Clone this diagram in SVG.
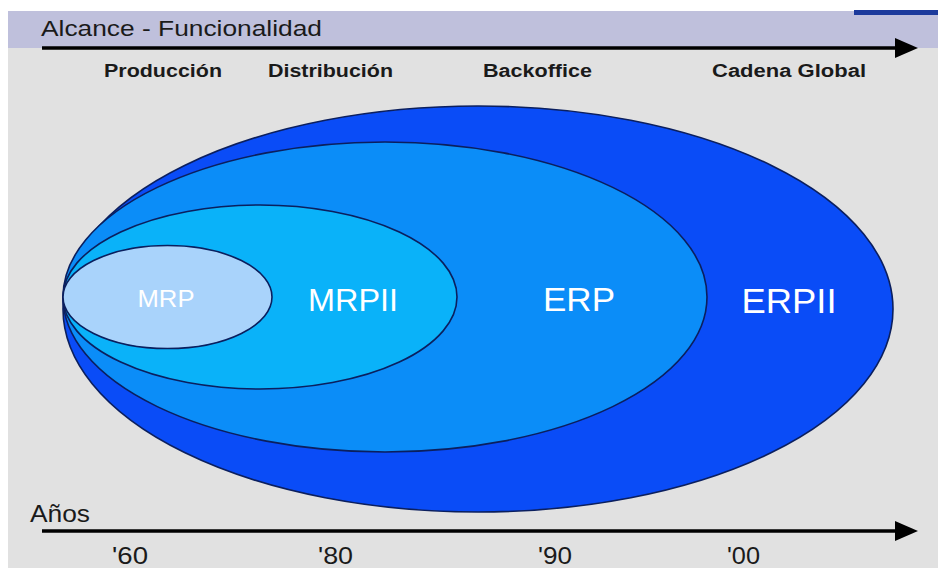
<svg xmlns="http://www.w3.org/2000/svg" width="938" height="568" viewBox="0 0 938 568">
<style>
.ell{stroke:#0b1f5e;stroke-width:1.6}
.lbl{font-family:"Liberation Sans",Arial,sans-serif;fill:#ffffff;text-anchor:middle}
.axis{font-family:"Liberation Sans",Arial,sans-serif;fill:#1a1a1a}
.cat{font-family:"Liberation Sans",Arial,sans-serif;font-weight:bold;fill:#1a1a1a;font-size:18px}
.arrow{stroke:#000;stroke-width:3.5;fill:none}
</style>
<rect x="0" y="0" width="938" height="568" fill="#ffffff"/>
<rect x="8" y="11" width="930" height="557" fill="#e1e1e1"/>
<rect x="8" y="11" width="930" height="37" fill="#bfc0dc"/>
<rect x="854" y="10" width="84" height="5" fill="#1c3a9c"/>
<text class="axis" x="41" y="36" font-size="22" textLength="281" lengthAdjust="spacingAndGlyphs">Alcance - Funcionalidad</text>
<g id="connectors">
<line class="arrow" x1="42" y1="48" x2="897" y2="48"/>
<polygon points="895,38 918,48 895,58" fill="#000"/>
<line class="arrow" x1="42" y1="531" x2="897" y2="531"/>
<polygon points="895,521 918,531 895,541" fill="#000"/>
</g>
<text class="cat" x="104" y="77" textLength="118" lengthAdjust="spacingAndGlyphs">Producción</text>
<text class="cat" x="268" y="77" textLength="125" lengthAdjust="spacingAndGlyphs">Distribución</text>
<text class="cat" x="483" y="77" textLength="109" lengthAdjust="spacingAndGlyphs">Backoffice</text>
<text class="cat" x="712" y="77" textLength="154" lengthAdjust="spacingAndGlyphs">Cadena Global</text>
<g id="erpii">
<ellipse class="ell" cx="478" cy="309" rx="415" ry="203" fill="#0a4cf7"/>
<text class="lbl" x="789" y="313" font-size="35" textLength="95" lengthAdjust="spacingAndGlyphs">ERPII</text>
</g>
<g id="erp">
<ellipse class="ell" cx="385" cy="297" rx="322" ry="155" fill="#0b8df8"/>
<text class="lbl" x="579" y="311" font-size="33" textLength="72" lengthAdjust="spacingAndGlyphs">ERP</text>
</g>
<g id="mrpii">
<ellipse class="ell" cx="260" cy="297" rx="197" ry="92" fill="#0ab2f9"/>
<text class="lbl" x="353" y="311" font-size="32" textLength="90" lengthAdjust="spacingAndGlyphs">MRPII</text>
</g>
<g id="mrp">
<ellipse class="ell" cx="167.5" cy="297" rx="104.5" ry="51.5" fill="#a9d3fb"/>
<text class="lbl" x="166" y="307" font-size="24" textLength="57" lengthAdjust="spacingAndGlyphs">MRP</text>
</g>
<text class="axis" x="30" y="522" font-size="23" textLength="60" lengthAdjust="spacingAndGlyphs">Años</text>
<text class="axis" x="112" y="564" font-size="24" textLength="36" lengthAdjust="spacingAndGlyphs">'60</text>
<text class="axis" x="318" y="564" font-size="24" textLength="35" lengthAdjust="spacingAndGlyphs">'80</text>
<text class="axis" x="538" y="564" font-size="24" textLength="34" lengthAdjust="spacingAndGlyphs">'90</text>
<text class="axis" x="727" y="564" font-size="24" textLength="33" lengthAdjust="spacingAndGlyphs">'00</text>
</svg>
